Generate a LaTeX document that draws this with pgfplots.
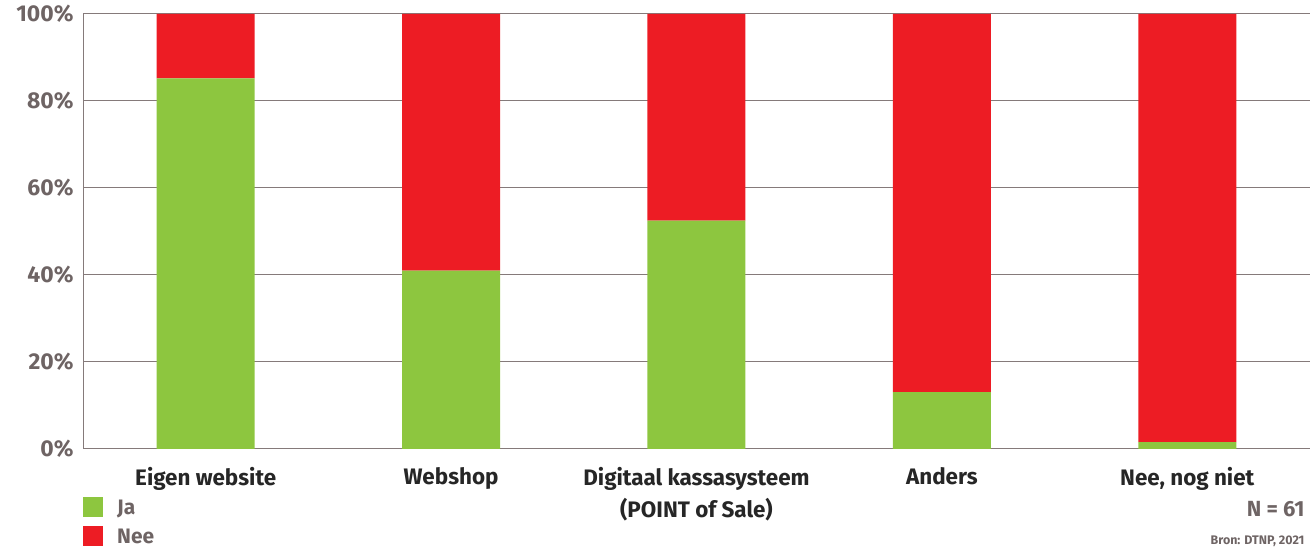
\documentclass[border=0pt]{standalone}
\usepackage{fontspec}
\setmainfont{Fira Sans}
\usepackage{pgfplots}
\pgfplotsset{compat=1.18}
\definecolor{jagreen}{HTML}{8DC63F}
\definecolor{neered}{HTML}{ED1C24}
\definecolor{gridgray}{HTML}{857A7A}
\definecolor{ticktext}{HTML}{6E6464}
\begin{document}
\begin{tikzpicture}[x=1bp,y=1bp]
\path[use as bounding box] (0,0) rectangle (1310,552);
\begin{axis}[
  at={(83bp,103bp)}, anchor=south west,
  scale only axis,
  width=1227bp, height=435bp,
  ybar stacked,
  bar width=98bp,
  xmin=-0.5, xmax=4.5,
  ymin=0, ymax=100,
  ytick={0,20,40,60,80,100},
  yticklabel={\pgfmathprintnumber{\tick}\%},
  yticklabel style={font=\fontsize{23}{25}\selectfont\bfseries, text=ticktext, xshift=-6bp, /pgf/number format/assume math mode=true},
  xtick={0,1,2,3,4},
  xticklabels={Eigen website, Webshop, {Digitaal kassasysteem\\(POINT of Sale)}, Anders, {Nee, nog niet}},
  xticklabel style={font=\fontsize{22.5}{32}\selectfont\bfseries, text=black!85, align=center, anchor=north, yshift=-15bp},
  major tick length=0pt,
  ymajorgrids,
  grid style={gridgray, line width=1bp},
  axis line style={gridgray, line width=1bp},
  axis x line*=bottom,
  axis y line*=left,
  legend style={at={(0,-0.11)}, anchor=north west, draw=none, fill=none, inner sep=0pt,
    font=\fontsize{21}{23}\selectfont\bfseries, text=ticktext, row sep=8bp, cells={anchor=west}},
  legend image code/.code={\fill[#1] (0bp,-9bp) rectangle (20bp,11bp);},
  legend cell align=left,
]
\addplot[fill=jagreen, draw=none] coordinates {(0,85.2) (1,41.0) (2,52.5) (3,13.1) (4,1.6)};
\addplot[fill=neered, draw=none] coordinates {(0,14.8) (1,59.0) (2,47.5) (3,86.9) (4,98.4)};
\legend{\hspace{12bp}Ja, \hspace{12bp}Nee}
\end{axis}
\node[anchor=east, text=ticktext, font=\fontsize{22}{24}\selectfont\bfseries] at (1308,43) {N = 61};
\node[anchor=east, text=ticktext, font=\fontsize{12.5}{14}\selectfont\bfseries] at (1308,11) {Bron: DTNP, 2021};
\end{tikzpicture}
\end{document}
